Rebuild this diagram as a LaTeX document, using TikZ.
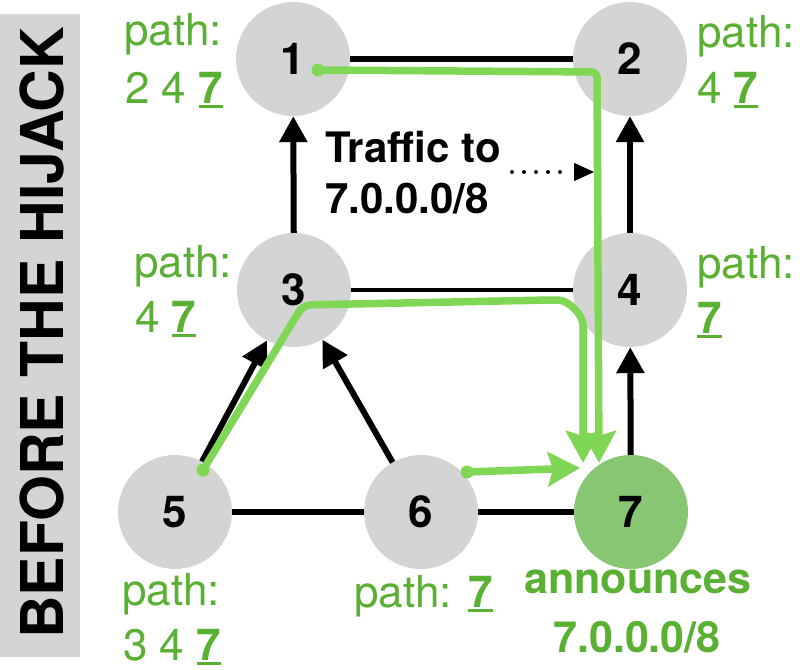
\documentclass[tikz,border=0pt]{standalone}
\usepackage{fontspec}
\setmainfont{TeX Gyre Heros}
\usetikzlibrary{arrows.meta}
\definecolor{nodegray}{HTML}{D4D4D4}
\definecolor{txtgreen}{HTML}{5AB033}
\definecolor{pathgreen}{HTML}{80D655}
\definecolor{srcgreen}{HTML}{88C673}
\newcommand\ulseven{\setbox0\hbox{\bfseries 7}\copy0\llap{\rule[-5pt]{\wd0}{2.6pt}}}
\begin{document}
\begin{tikzpicture}[x=1pt,y=-1pt,
  asnode/.style={circle,fill=nodegray,minimum size=114pt,inner sep=0pt,
    font=\fontsize{44}{52}\selectfont\bfseries},
  link/.style={line width=6pt},
  thinlink/.style={line width=4.5pt},
  arr/.style={line width=6pt,-{Triangle[length=26pt,width=27pt]}},
  lbl/.style={text=txtgreen,font=\fontsize{44}{52}\selectfont,inner sep=0pt,anchor=base west},
  blbl/.style={text=txtgreen,font=\fontsize{43}{51}\selectfont\bfseries,inner sep=0pt,anchor=base},
  note/.style={font=\fontsize{42}{50}\selectfont\bfseries,inner sep=0pt,anchor=base west},
  gpath/.style={draw=pathgreen,line width=7.5pt,line cap=round,line join=round,
    -{Stealth[length=32pt,width=34pt,inset=5pt]}},
  gdot/.style={fill=pathgreen}
]
\useasboundingbox (0,0) rectangle (800,669);

% banner
\fill[nodegray] (0,14) rectangle (80,657);
\node[rotate=90,inner sep=0pt,font=\fontsize{59}{70}\selectfont\bfseries] (banner) at (41.5,333) {BEFORE THE HIJACK};

% AS nodes
\node[asnode] (n1) at (293,59) {1};
\node[asnode] (n2) at (630,59) {2};
\node[asnode] (n3) at (294,290) {3};
\node[asnode] (n4) at (630,290) {4};
\node[asnode] (n5) at (175,512) {5};
\node[asnode] (n6) at (421,512) {6};
\node[asnode,fill=srcgreen] (n7) at (631,512) {7};

% links
\draw[link] (n1) -- (n2);
\draw[thinlink] (n3) -- (n4);
\draw[link] (n5) -- (n6);
\draw[link] (n6) -- (n7);
\draw[arr] (n3) -- (n1);
\draw[arr] (n4) -- (n2);
\draw[arr] (n7) -- (n4);
\draw[arr] (n5) -- (n3);
\draw[arr] (n6) -- (n3);

% traffic note
\node[note] (tr1) at (325,162) {Traffic to};
\node[note] (tr2) at (325,213) {7.0.0.0/8};
\coordinate (ds) at (512,172);
\coordinate (de) at (594,172);
\draw[line width=4pt,line cap=round,dash pattern=on 0pt off 12pt] (ds) -- (570,172);
\draw[-{Triangle[length=20pt,width=18pt]},line width=1pt] (574,172) -- (de);

% green paths
\coordinate (g1s) at (318,70);
\coordinate (g1c) at (597,72);
\coordinate (g1e) at (599,463);
\coordinate (g5s) at (203,470);
\coordinate (g3j) at (303,305);
\coordinate (g4c) at (583,300);
\coordinate (g5e) at (583,463);
\coordinate (g6s) at (467,472);
\coordinate (g6e) at (580,468);
\draw[gpath,rounded corners=5pt] (g1s) -- (g1c) -- (g1e);
\draw[gpath,rounded corners=8pt] (g5s) -- (g3j) -- (550,300) to[out=0,in=90] (g4c |- 0,333) -- (g5e);
\draw[gpath] (g6s) -- (g6e);
\fill[gdot] (g1s) circle[radius=6.5pt];
\fill[gdot] (g5s) circle[radius=6.5pt];
\fill[gdot] (g6s) circle[radius=6.5pt];

% path labels
\node[lbl] (l1a) at (124,46) {path:};
\node[lbl] (l1b) at (125,103) {2 4 \ulseven};
\node[lbl] (l2a) at (697,48) {path:};
\node[lbl] (l2b) at (697,103) {4 \ulseven};
\node[lbl] (l3a) at (134,277) {path:};
\node[lbl] (l3b) at (135,332) {4 \ulseven};
\node[lbl] (l4a) at (697,278) {path:};
\node[lbl] (l4b) at (697,333) {\ulseven};
\node[lbl] (l5a) at (122,605) {path:};
\node[lbl] (l5b) at (123,660) {3 4 \ulseven};
\node[lbl] (l6) at (354,607) {path: \ulseven};
\node[blbl] (l7a) at (638,593) {announces};
\node[blbl] (l7b) at (637,652) {7.0.0.0/8};
\end{tikzpicture}
\end{document}
